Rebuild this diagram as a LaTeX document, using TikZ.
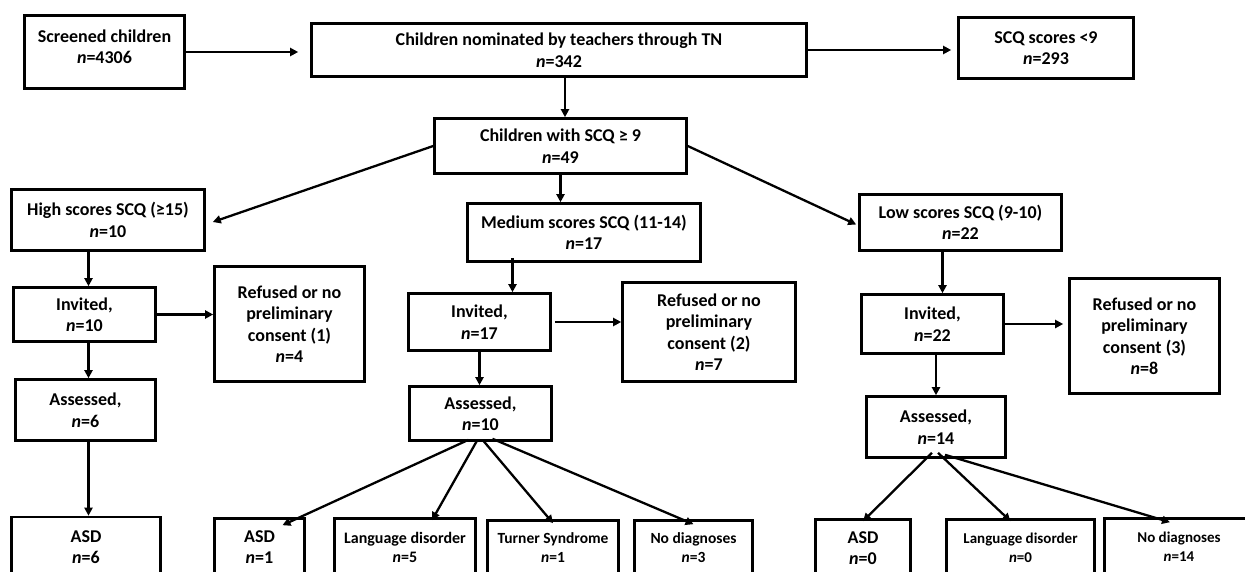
\documentclass[tikz,border=0pt]{standalone}
\usepackage{fontspec}
\setmainfont{Carlito}
\usetikzlibrary{arrows.meta}

\begin{document}
\begin{tikzpicture}[x=1pt,y=-1pt,
    box/.style={draw,line width=2.6pt,align=center,font=\bfseries\fontsize{18}{21.5}\selectfont,inner sep=0pt},
    small/.style={font=\bfseries\fontsize{15.5}{19}\selectfont},
    arr/.style={line width=2.3pt,-{Triangle[length=8pt,width=8pt]}}]
    \clip (0,0) rectangle (1245,571);
    \useasboundingbox (0,0) rectangle (1245,571);
    % top row
    \node[box,minimum width=160,minimum height=73] (scr) at (104.5,52) {Screened children\\\textit{n}=4306\\[-11pt]};
    \node[box,minimum width=495,minimum height=53] (tn) at (559,50) {Children nominated by teachers through TN\\\textit{n}=342};
    \node[box,minimum width=175,minimum height=61] (scq) at (1046,48) {SCQ scores <9\\\textit{n}=293};
    \node[box,minimum width=252,minimum height=55] (scq9) at (560.5,146) {Children with SCQ ≥ 9\\\textit{n}=49};
    % score groups
    \node[box,minimum width=193,minimum height=61] (high) at (108,220) {High scores SCQ (≥15)\\\textit{n}=10};
    \node[box,minimum width=233,minimum height=58] (med) at (584,232.5) {Medium scores SCQ (11-14)\\\textit{n}=17};
    \node[box,minimum width=202,minimum height=56] (low) at (960.5,222.5) {Low scores SCQ (9-10)\\\textit{n}=22};
    % high branch
    \node[box,minimum width=142,minimum height=54] (inv1) at (84.5,314.5) {Invited,\\\textit{n}=10};
    \node[box,minimum width=150,minimum height=115] (ref1) at (289.5,324) {Refused or no\\preliminary\\consent (1)\\\textit{n}=4};
    \node[box,minimum width=140,minimum height=61] (ass1) at (85.5,410) {Assessed,\\\textit{n}=6};
    \node[box,minimum width=149,minimum height=60] (asdh) at (86,547) {ASD\\\textit{n}=6};
    % medium branch
    \node[box,minimum width=142,minimum height=57] (inv2) at (479.5,322) {Invited,\\\textit{n}=17};
    \node[box,minimum width=173,minimum height=99] (ref2) at (709,332) {Refused or no\\preliminary\\consent (2)\\\textit{n}=7};
    \node[box,minimum width=142,minimum height=54] (ass2) at (480.5,413.5) {Assessed,\\\textit{n}=10};
    \node[box,minimum width=90,minimum height=57] (asdm) at (259.5,547) {ASD\\\textit{n}=1};
    \node[box,small,font=\bfseries\fontsize{16}{19}\selectfont,minimum width=141,minimum height=57] (ldm) at (405,547) {Language disorder\\\textit{n}=5};
    \node[box,small,minimum width=131,minimum height=55] (tsm) at (553,548) {Turner Syndrome\\\textit{n}=1};
    \node[box,small,minimum width=118,minimum height=55] (ndm) at (693.5,548) {No diagnoses\\\textit{n}=3};
    % low branch
    \node[box,minimum width=142,minimum height=59] (inv3) at (932.5,324) {Invited,\\\textit{n}=22};
    \node[box,minimum width=150,minimum height=115] (ref3) at (1144.5,336) {Refused or no\\preliminary\\consent (3)\\\textit{n}=8};
    \node[box,minimum width=139,minimum height=61] (ass3) at (936,427) {Assessed,\\\textit{n}=14};
    \node[box,minimum width=95,minimum height=57] (asdl) at (863,548) {ASD\\\textit{n}=0};
    \node[box,small,font=\bfseries\fontsize{15}{19}\selectfont,minimum width=148,minimum height=57] (ldl) at (1020.5,548) {Language disorder\\\textit{n}=0};
    \node[box,small,font=\bfseries\fontsize{15}{19}\selectfont,minimum width=149,minimum height=57] (ndl) at (1179,547) {No diagnoses\\\textit{n}=14};
    % connectors
    \draw[arr] (scr.east) -- ([xshift=-12pt]scr.east -| tn.west);
    \draw[arr] (tn.east) -- ([xshift=-6pt]tn.east -| scq.west);
    \draw[arr] ([xshift=6pt]tn.south) -- ([xshift=6pt]tn.south |- scq9.north);
    \draw[arr] (scq9.west) -- ([xshift=7pt,yshift=-2pt]high.east);
    \draw[arr] (scq9.south) -- (scq9.south |- med.north);
    \draw[arr] (scq9.east) -- ([xshift=-2pt,yshift=-2pt]low.west);
    \draw[arr] ([xshift=4pt]inv1.north |- high.south) -- ([xshift=4pt]inv1.north);
    \draw[arr] (inv1.east) -- (inv1.east -| ref1.west);
    \draw[arr] ([xshift=4pt]inv1.south) -- ([xshift=4pt]inv1.south |- ass1.north);
    \draw[arr] ([xshift=3pt]ass1.south) -- ([xshift=3pt]ass1.south |- asdh.north);
    \draw[arr] ([xshift=33pt,yshift=5pt]inv2.north |- med.south) -- ([xshift=33pt]inv2.north);
    \draw[arr] ([xshift=3pt]inv2.east) -- (inv2.east -| ref2.west);
    \draw[arr] (inv2.south) -- (inv2.south |- ass2.north);
    \draw[arr] ([xshift=-12pt,yshift=2pt]ass2.south) -- ([xshift=23pt,yshift=-8pt]asdm.north);
    \draw[arr] ([xshift=-3pt,yshift=2pt]ass2.south) -- ([xshift=27pt,yshift=-3pt]ldm.north);
    \draw[arr] ([xshift=2pt,yshift=2pt]ass2.south) -- ([yshift=-4pt]tsm.north);
    \draw[arr] ([xshift=12pt,yshift=3pt]ass2.south) -- ([yshift=-5pt]ndm.north);
    \draw[arr] ([xshift=10pt]inv3.north |- low.south) -- ([xshift=10pt]inv3.north);
    \draw[arr] (inv3.east) -- ([xshift=-5pt]inv3.east -| ref3.west);
    \draw[arr] (ass3.north |- inv3.south) -- (ass3.north);
    \draw[arr] ([xshift=-4pt,yshift=6pt]ass3.south) -- ([yshift=-3pt]asdl.north);
    \draw[arr] ([xshift=2pt,yshift=6pt]ass3.south) -- ([xshift=-10pt,yshift=-3pt]ldl.north);
    \draw[arr] ([xshift=9pt,yshift=4pt]ass3.south) -- ([xshift=-9pt,yshift=-5pt]ndl.north);
\end{tikzpicture}
\end{document}
